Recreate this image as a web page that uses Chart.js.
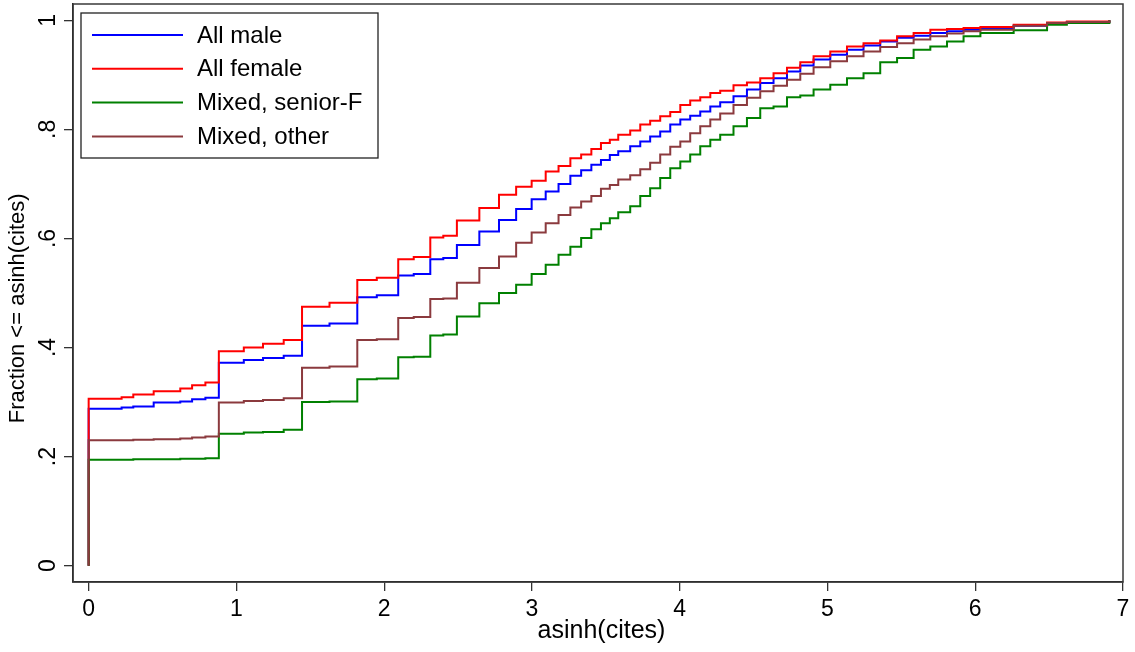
<!DOCTYPE html>
<html><head><meta charset="utf-8">
<script src="https://cdn.jsdelivr.net/npm/chart.js@4.4.1/dist/chart.umd.min.js"></script>
<style>html,body{margin:0;padding:0;background:#fff;} #wrap{width:1135px;height:652px;}</style>
</head><body><div id="wrap"><canvas id="c" width="1135" height="652"></canvas></div>
<script>
// ---- data (x = asinh(cites), y = cumulative fraction) ----
const xGrid = [
  0, 0, 0.223, 0.302, 0.44, 0.62, 0.70, 0.79,
  0.881, 1.05, 1.18, 1.32, 1.444, 1.63, 1.818, 1.95,
  2.095, 2.2, 2.312, 2.40, 2.492, 2.644, 2.777, 2.893,
  2.998, 3.093, 3.180, 3.260, 3.333, 3.402, 3.467, 3.527,
  3.584, 3.665, 3.733, 3.800, 3.868, 3.936, 4.004, 4.071,
  4.139, 4.207, 4.274, 4.364, 4.455, 4.545, 4.635, 4.726,
  4.816, 4.906, 5.019, 5.132, 5.244, 5.357, 5.471, 5.583,
  5.696, 5.809, 5.921, 6.035, 6.260, 6.486, 6.62, 6.908
];
const allMale = [
  0, .2875, .290, .292, .299, .301, .305, .308,
  .372, .377, .381, .385, .440, .444, .492, .496,
  .532, .535, .562, .564, .588, .613, .634, .654,
  .672, .686, .700, .715, .725, .735, .744, .753,
  .760, .769, .778, .787, .796, .809, .818, .825,
  .833, .842, .850, .861, .873, .885, .894, .906,
  .917, .928, .937, .946, .954, .961, .968, .972,
  .977, .980, .983, .986, .990, .995, .997, 1
];
const allFemale = [
  0, .306, .309, .314, .320, .325, .331, .336,
  .393, .400, .407, .414, .475, .482, .524, .528,
  .562, .566, .602, .605, .633, .656, .680, .695,
  .706, .723, .733, .747, .754, .764, .775, .781,
  .790, .798, .809, .816, .824, .832, .845, .853,
  .859, .867, .871, .881, .886, .894, .903, .913,
  .923, .934, .943, .952, .958, .963, .971, .977,
  .983, .984, .986, .988, .992, .996, .998, 1
];
const mixedSeniorF = [
  0, .194, .194, .195, .195, .196, .196, .197,
  .242, .244, .245, .249, .300, .301, .342, .343,
  .382, .383, .422, .424, .457, .481, .500, .515,
  .535, .552, .570, .585, .601, .617, .628, .637,
  .648, .659, .678, .692, .711, .729, .741, .754,
  .769, .781, .790, .806, .821, .839, .842, .859,
  .862, .873, .882, .894, .903, .923, .931, .946,
  .952, .961, .971, .977, .982, .992, .995, 1
];
const mixedOther = [
  0, .230, .230, .231, .232, .233, .235, .237,
  .299, .302, .304, .307, .363, .365, .414, .415,
  .454, .456, .489, .490, .519, .546, .567, .592,
  .611, .628, .643, .657, .668, .678, .691, .698,
  .708, .716, .727, .739, .754, .768, .778, .793,
  .806, .818, .829, .845, .858, .870, .880, .891,
  .902, .914, .925, .934, .943, .951, .958, .965,
  .971, .976, .980, .983, .990, .995, .997, 1
];
const seriesNames = ['All male', 'All female', 'Mixed, senior-F', 'Mixed, other'];
const xTickValues = [0, 1, 2, 3, 4, 5, 6, 7];
const yTickValues = [0, 0.2, 0.4, 0.6, 0.8, 1];
const yTickLabels = ['0', '.2', '.4', '.6', '.8', '1'];
const xTitle = 'asinh(cites)';
const yTitle = 'Fraction <= asinh(cites)';

// ---- styles ----
const seriesValues = [allMale, allFemale, mixedSeniorF, mixedOther];
const seriesColors = ['rgb(0,0,255)', 'rgb(255,0,0)', 'rgb(0,128,0)', 'rgb(139,58,62)'];
const drawOrder = [4, 3, 2, 1];
const FONT = '"Liberation Sans", Arial, sans-serif';
const NBSP = '\u00A0';

const toPoints = (ys) => xGrid.map((x, i) => ({x: x, y: ys[i]}));

const frameAndLegend = {
  id: 'frameAndLegend',
  afterDraw(chart) {
    const ctx = chart.ctx;
    const a = chart.chartArea;
    ctx.save();
    ctx.strokeStyle = '#3a3a3a';
    ctx.lineWidth = 1.5;
    ctx.strokeRect(a.left, a.top, a.right - a.left, a.bottom - a.top);
    // legend box
    const bx = a.left + 8, by = a.top + 9, bw = 297, bh = 145;
    ctx.fillStyle = '#fff';
    ctx.fillRect(bx, by, bw, bh);
    ctx.strokeStyle = '#222';
    ctx.lineWidth = 1.3;
    ctx.strokeRect(bx, by, bw, bh);
    ctx.font = '24px ' + FONT;
    ctx.textBaseline = 'middle';
    ctx.textAlign = 'left';
    chart.data.datasets.forEach((ds, i) => {
      const yy = by + 22 + i * 33.8;
      ctx.strokeStyle = ds.borderColor;
      ctx.lineWidth = 2;
      ctx.beginPath();
      ctx.moveTo(bx + 11, yy);
      ctx.lineTo(bx + 102, yy);
      ctx.stroke();
      ctx.fillStyle = '#000';
      ctx.fillText(ds.label, bx + 116, yy + 1);
    });
    ctx.restore();
  }
};

new Chart(document.getElementById('c'), {
  type: 'line',
  data: {
    datasets: seriesNames.map((name, i) => ({
      label: name,
      data: toPoints(seriesValues[i]),
      borderColor: seriesColors[i],
      backgroundColor: seriesColors[i],
      borderWidth: 2,
      pointRadius: 0,
      stepped: true,
      fill: false,
      order: drawOrder[i]
    }))
  },
  options: {
    responsive: false,
    animation: false,
    devicePixelRatio: 1,
    layout: {padding: {top: 4, right: 12, left: 0, bottom: 0}},
    plugins: {legend: {display: false}, tooltip: {enabled: false}},
    scales: {
      x: {
        type: 'linear',
        min: -0.106, max: 7,
        afterBuildTicks: (s) => { s.ticks = xTickValues.map(v => ({value: v})); },
        afterFit: (s) => { s.height = 70; s.paddingLeft = 0; s.paddingRight = 0; },
        border: {display: true, color: '#111', width: 1.5},
        grid: {display: true, drawOnChartArea: false, drawTicks: true, tickLength: 9, color: '#333', lineWidth: 1.3},
        ticks: {color: '#000', padding: 5, font: {family: FONT, size: 23}, maxRotation: 0, callback: (v) => String(v)},
        title: {display: true, text: NBSP + xTitle, color: '#000', font: {family: FONT, size: 25, lineHeight: 1}, padding: {top: 0, bottom: 8}}
      },
      y: {
        type: 'linear',
        min: -0.03, max: 1.03,
        afterBuildTicks: (s) => { s.ticks = yTickValues.map(v => ({value: v})); },
        afterFit: (s) => { s.width = 73; s.paddingTop = 0; s.paddingBottom = 0; },
        border: {display: true, color: '#111', width: 1.5},
        grid: {display: true, drawOnChartArea: false, drawTicks: true, tickLength: 9, color: '#333', lineWidth: 1.3},
        ticks: {color: '#000', padding: 6, crossAlign: 'center', minRotation: 90, maxRotation: 90,
                font: {family: FONT, size: 23},
                callback: (v) => { const k = yTickValues.findIndex(t => Math.abs(t - v) < 1e-9); return k >= 0 ? yTickLabels[k] : ''; }},
        title: {display: true, text: yTitle + NBSP.repeat(5), color: '#000', font: {family: FONT, size: 22, lineHeight: 1}, padding: {top: 7, bottom: 0}}
      }
    }
  },
  plugins: [frameAndLegend]
});
</script>
</body></html>
